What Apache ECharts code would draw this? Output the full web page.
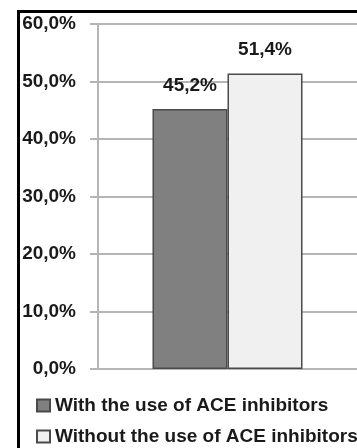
<!DOCTYPE html>
<html>
<head>
<meta charset="utf-8">
<script src="https://cdn.jsdelivr.net/npm/echarts@6/dist/echarts.min.js"></script>
<style>
html,body{margin:0;padding:0;background:#fff;}
#chart{width:357px;height:448px;}
</style>
</head>
<body>
<div id="chart"></div>
<script>
var categories = [''];
var seriesNames = ['With the use of ACE inhibitors', 'Without the use of ACE inhibitors'];
var withACE = [45.2];
var withoutACE = [51.4];
var yTicks = [0, 10, 20, 30, 40, 50, 60];

var fmt = function (v) { return v.toFixed(1).replace('.', ',') + '%'; };
var FONT = 'Liberation Sans';

var chart = echarts.init(document.getElementById('chart'), null, {renderer: 'canvas'});
chart.setOption({
  animation: false,
  backgroundColor: '#fff',
  graphic: [{
    type: 'rect', left: 16, top: 9, z: 100,
    shape: {width: 420, height: 520},
    style: {fill: 'none', stroke: '#000', lineWidth: 3}
  }],
  grid: {left: 98, right: 0, top: 24, bottom: 79},
  legend: {
    orient: 'vertical', left: 31, top: 391, width: 330, height: 80,
    icon: 'rect',
    itemWidth: 13, itemHeight: 12, itemGap: 12, itemTextGap: 3,
    data: seriesNames,
    textStyle: {fontFamily: FONT, fontWeight: 'bold', fontSize: 19, color: '#1a1a1a', lineHeight: 19}
  },
  xAxis: {
    type: 'category', data: categories,
    axisLine: {lineStyle: {color: '#b5b5b5', width: 2}},
    axisTick: {show: false}, axisLabel: {show: false}
  },
  yAxis: {
    type: 'value', min: yTicks[0], max: yTicks[yTicks.length - 1], interval: 10,
    axisLine: {show: true, lineStyle: {color: '#b5b5b5', width: 2}},
    axisTick: {show: true, length: 8, lineStyle: {color: '#b5b5b5', width: 2}},
    splitLine: {lineStyle: {color: '#b5b5b5', width: 2}},
    axisLabel: {
      margin: 22, formatter: fmt,
      fontFamily: FONT, fontWeight: 'bold', fontSize: 19, color: '#1a1a1a'
    }
  },
  series: [{
    name: seriesNames[0], type: 'bar', data: withACE,
    barWidth: 75, barGap: '0%',
    itemStyle: {color: '#808080', borderColor: '#4a4a4a', borderWidth: 1.5},
    label: {show: true, position: 'top', distance: 14, formatter: function (p) { return fmt(p.value); },
      fontFamily: FONT, fontWeight: 'bold', fontSize: 19, color: '#1a1a1a'}
  }, {
    name: seriesNames[1], type: 'bar', data: withoutACE,
    barWidth: 75, barGap: '0%',
    itemStyle: {color: '#f0f0f0', borderColor: '#4a4a4a', borderWidth: 1.5},
    label: {show: true, position: 'top', distance: 14, formatter: function (p) { return fmt(p.value); },
      fontFamily: FONT, fontWeight: 'bold', fontSize: 19, color: '#1a1a1a'}
  }]
});
</script>
</body>
</html>
